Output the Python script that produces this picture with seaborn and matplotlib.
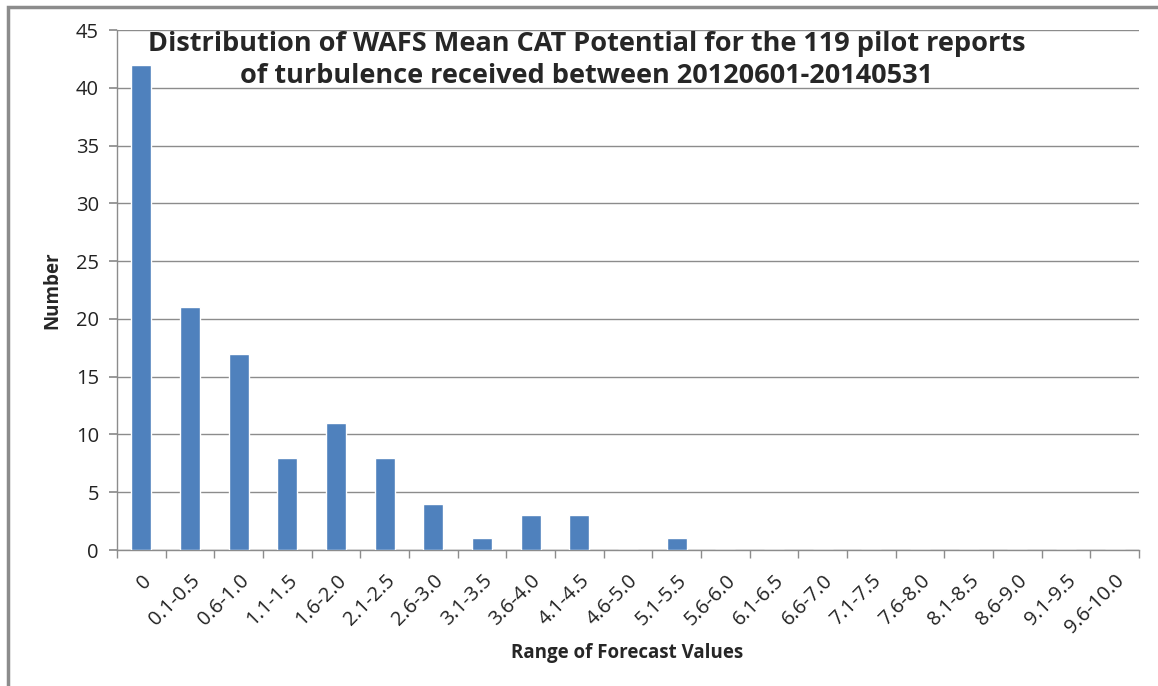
import matplotlib
matplotlib.use('Agg')
import matplotlib.pyplot as plt
import seaborn as sns
import pandas as pd
from matplotlib.patches import Rectangle

ranges = ['0', '0.1-0.5', '0.6-1.0', '1.1-1.5', '1.6-2.0', '2.1-2.5', '2.6-3.0',
          '3.1-3.5', '3.6-4.0', '4.1-4.5', '4.6-5.0', '5.1-5.5', '5.6-6.0',
          '6.1-6.5', '6.6-7.0', '7.1-7.5', '7.6-8.0', '8.1-8.5', '8.6-9.0',
          '9.1-9.5', '9.6-10.0']
counts = [42, 21, 17, 8, 11, 8, 4, 1, 3, 3, 0, 1, 0, 0, 0, 0, 0, 0, 0, 0, 0]

df = pd.DataFrame({'Range': ranges, 'Number': counts})

sns.set_theme(style="white")
plt.rcParams['font.family'] = ['Open Sans', 'DejaVu Sans']

fig = plt.figure(figsize=(11.58, 6.86), dpi=100)
ax = fig.add_axes([117 / 1158, 1 - 550 / 686, (1139 - 117) / 1158, (550 - 30) / 686])

sns.barplot(data=df, x='Range', y='Number', color='#4F81BD', saturation=1,
            width=0.41, ax=ax, zorder=3)

ax.set_ylim(0, 45)
ax.set_xlim(-0.5, len(ranges) - 0.5)
ax.set_yticks(range(0, 46, 5))
ax.yaxis.grid(True, color='#8c8c8c', linewidth=1, zorder=0)
ax.xaxis.grid(False)

for side in ['top', 'right']:
    ax.spines[side].set_visible(False)
for side in ['left', 'bottom']:
    ax.spines[side].set_color('#8c8c8c')
    ax.spines[side].set_linewidth(1)

ax.tick_params(axis='y', which='major', left=True, length=6, color='#8c8c8c',
               labelsize=14.5, labelcolor='#222222', pad=7)
ax.set_xticks([i + 0.5 for i in range(-1, len(ranges))], minor=True)
ax.tick_params(axis='x', which='major', bottom=False, labelsize=14.5,
               labelcolor='#222222', pad=9)
ax.tick_params(axis='x', which='minor', bottom=True, length=6, color='#8c8c8c')
plt.setp(ax.get_xticklabels(), rotation=45, ha='right', rotation_mode='anchor')

ax.set_xlabel('Range of Forecast Values', fontsize=13.5, fontweight='bold')
ax.set_ylabel('Number', fontsize=13.5, fontweight='bold')
ax.xaxis.set_label_coords((627 - 117) / (1139 - 117), -(643 - 550) / 520)
ax.yaxis.set_label_coords(-(117 - 62) / (1139 - 117), 0.5)

fig.text(587 / 1158, 1 - 60 / 686,
         'Distribution of WAFS Mean CAT Potential for the 119 pilot reports\n'
         'of turbulence received between 20120601-20140531',
         ha='center', va='center', fontsize=19.5, fontweight='bold',
         linespacing=1.32)

fig.patches.append(Rectangle((8 / 1158, -0.1), 1.2, 1 - 7 / 686 + 0.1,
                             transform=fig.transFigure, fill=False,
                             edgecolor='#8c8c8c', linewidth=2.5))

fig.savefig('out.png', dpi=100)
